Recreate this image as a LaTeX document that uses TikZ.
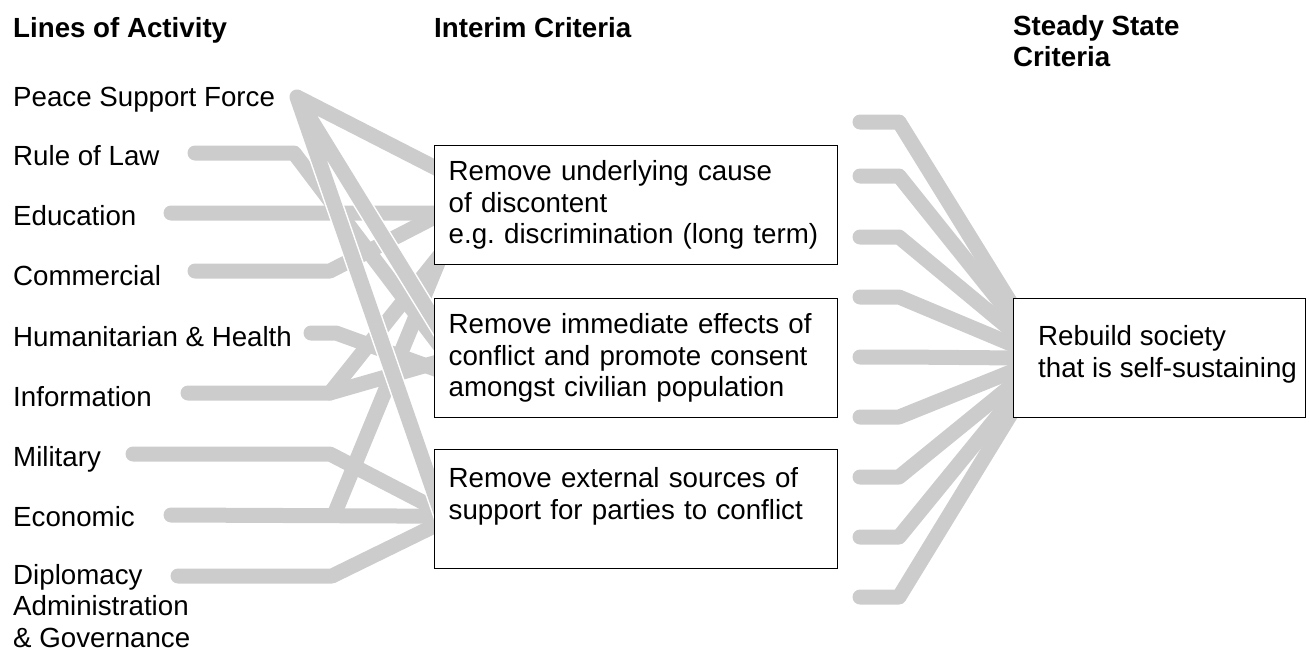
\documentclass[tikz,border=0pt]{standalone}
\usepackage{fontspec}
\setmainfont{Liberation Sans}
\frenchspacing
\usetikzlibrary{backgrounds}
\definecolor{bandgray}{RGB}{204,204,204}
\newcommand{\txt}{\fontsize{27.7}{31.5}\selectfont}
\tikzset{
  band/.style={draw=bandgray, line width=15pt, line cap=round, line join=round},
  psfband/.style={band, preaction={draw=white, line width=18pt, line cap=round, line join=round}},
  activity/.style={anchor=base west, inner sep=0pt, font=\txt},
  heading/.style={anchor=base west, inner sep=0pt, font=\txt\bfseries},
  crit/.style={draw, line width=1.4pt, fill=white, anchor=north west,
    text width=375pt, minimum height=119pt, inner xsep=14pt, align=left, font=\txt}
}

\begin{document}
\begin{tikzpicture}[x=1pt,y=-1pt]
    \useasboundingbox (0,0) rectangle (1309,651);
    \node (h-lines) [heading] at (13,37) {Lines of Activity};
    \node (h-interim) [heading] at (434,37) {Interim Criteria};
    \node (h-steady) [heading,anchor=north west,align=left] at (1013,15) {Steady State\\Criteria};

    \node (psf-l) [activity] at (13,106) {Peace Support Force};
    \node (rol-l) [activity] at (13,165) {Rule of Law};
    \node (edu-l) [activity] at (13,225) {Education};
    \node (com-l) [activity] at (13,285) {Commercial};
    \node (hh-l) [activity] at (13,346) {Humanitarian \& Health};
    \node (inf-l) [activity] at (13,406) {Information};
    \node (mil-l) [activity] at (13,466) {Military};
    \node (eco-l) [activity] at (13,526) {Economic};
    \node (dip-l) [activity,anchor=north west,align=left] at (13,564) {Diplomacy\\Administration\\\& Governance};

    \node (b1) [crit] at (434,145) {Remove underlying cause\\of discontent\\e.g. discrimination (long term)};
    \node (b2) [crit] at (434,298) {Remove immediate effects of\\conflict and promote consent\\amongst civilian population};
    \node (b3) [crit] at (434,449) {Remove external sources of\\support for parties to conflict\\\mbox{}};

    \node (goal) [draw,line width=1.4pt,fill=white,anchor=north west,minimum width=292pt,minimum height=119pt,inner sep=0pt] at (1013,298) {};
    \node (goal-txt) [anchor=west,align=left,inner sep=0pt,font=\txt] at ([shift={(25,-4)}]goal.west) {Rebuild society\\that is self-sustaining};

    \coordinate (psf) at (297,97);
    \coordinate (rol) at (195,153);  \coordinate (rol-k) at (294,153);
    \coordinate (edu) at (171,213);
    \coordinate (com) at (195,271);  \coordinate (com-k) at (330,271);
    \coordinate (hh) at (311,333);   \coordinate (hh-k) at (336,333);
    \coordinate (inf) at (188,393);  \coordinate (inf-k) at (330,393);
    \coordinate (mil) at (133,454);  \coordinate (mil-k) at (330,454);
    \coordinate (eco) at (171,515);  \coordinate (eco-k) at (334,515);
    \coordinate (dip) at (178,576);  \coordinate (dip-k) at (332,576);

    \begin{pgfonlayer}{background}
      \draw [band] (rol) -- (rol-k) -- ([shift={(10,-7)}]b2.west);
      \draw [band] (edu) -- ([shift={(10,8)}]b1.west);
      \draw [band] (com) -- (com-k) -- ([shift={(10,7)}]b1.west);
      \draw [band] (hh) -- (hh-k) -- ([shift={(10,14)}]b2.west);
      \draw [band] (inf) -- (inf-k) -- ([shift={(10,2)}]b2.west);
      \draw [band] (inf-k) -- ([shift={(10,45)}]b1.west);
      \draw [band] (mil) -- (mil-k) -- ([shift={(10,4)}]b3.west);
      \draw [band] (eco) -- ([shift={(10,7)}]b3.west);
      \draw [band] (eco-k) -- ([shift={(10,43)}]b1.west);
      \draw [band] (dip) -- (dip-k) -- ([shift={(10,12)}]b3.west);
      \draw [psfband] (psf) -- ([shift={(10,-33)}]b1.west)
                      (psf) -- ([shift={(10,-22)}]b2.west)
                      (psf) -- ([shift={(10,12)}]b3.west);
      \foreach \y [count=\i] in {122,176,237,297,357,417,477,537,597} {
        \coordinate (s\i) at (860,\y);
        \draw [band] (s\i) -- ++(39,0) -- ([xshift=32pt]goal.west);
      }
    \end{pgfonlayer}
  \end{tikzpicture}
\end{document}
